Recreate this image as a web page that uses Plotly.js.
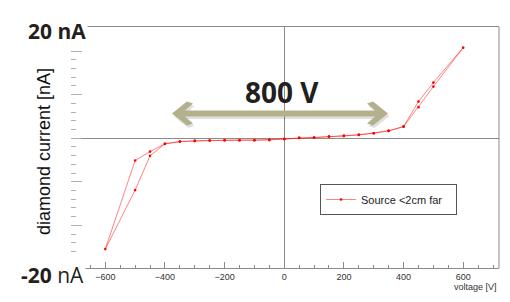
<!DOCTYPE html>
<html>
<head>
<meta charset="utf-8">
<script src="https://cdn.plot.ly/plotly-3.0.1.min.js"></script>
<style>html,body{margin:0;padding:0;background:#fff;}#chart{width:510px;height:302px;}</style>
</head>
<body>
<div id="chart"></div>
<script>
// Sweep order: 0 -> -600 -> 0 -> +600 -> 0 (hysteresis loop)
const voltage = [0,-50,-100,-150,-200,-250,-300,-350,-400,-450,-500,-600,-500,-450,-400,-350,-300,-250,-200,-150,-100,-50,0,
                 50,100,150,200,250,300,350,400,450,500,600,500,450,400,350,300,250,200,150,100,50,0];
const current = [-0.10,-0.20,-0.23,-0.23,-0.24,-0.26,-0.31,-0.39,-0.65,-1.54,-2.57,-12.73,-5.96,-2.03,-0.65,-0.39,-0.31,-0.26,-0.24,-0.23,-0.23,-0.20,-0.10,
                 0.03,0.07,0.18,0.26,0.38,0.57,0.84,1.33,4.20,6.38,10.39,5.92,3.56,1.33,0.84,0.57,0.38,0.26,0.18,0.07,0.03,-0.10];
const seriesName = 'Source &lt;2cm far';
const xTitle = 'voltage [V]';
const yTitle = 'diamond current [nA]';
const topLabel = '20 nA';
const bottomLabel = '-20 <span style="font-weight:normal">nA</span>';
const spanLabel = '800 V';

const W = 510, H = 302;
const M = {l: 71, r: 11, t: 27, b: 34};
const PW = W - M.l - M.r, PH = H - M.t - M.b;
const px = x => (x - M.l) / PW;
const py = y => (H - M.b - y) / PH;

function pathFrom(pts, dx, dy) {
  return pts.map((p, i) => (i ? 'L' : 'M') + px(p[0] + dx).toFixed(4) + ',' + py(p[1] + dy).toFixed(4)).join(' ') + ' Z';
}
const arrowPts = [[172,113.5],[187,101.5],[193,103.5],[185,110.5],[375,110.5],[367,103.5],[373,101.5],[388,113.5],
                  [373,125.5],[367,123.5],[375,116.5],[185,116.5],[193,123.5],[187,125.5]];

const trace = {
  x: voltage, y: current, type: 'scatter', mode: 'lines+markers', name: seriesName,
  line: {color: 'rgba(255,30,30,0.55)', width: 1},
  marker: {color: '#ff0000', size: 2.6},
  showlegend: true
};

const gray = '#8a8a8a';
const layout = {
  width: W, height: H,
  margin: M,
  paper_bgcolor: '#fff', plot_bgcolor: '#fff',
  font: {family: 'Liberation Sans, Arial, sans-serif', color: '#333'},
  showlegend: true,
  legend: {
    x: px(320), y: py(184), xanchor: 'left', yanchor: 'top',
    orientation: 'h', entrywidth: 90, entrywidthmode: 'pixels',
    bordercolor: '#555', borderwidth: 1, bgcolor: '#fff',
    font: {size: 11, color: '#222', family: 'Liberation Sans, Arial, sans-serif'}
  },
  xaxis: {
    range: [-715, 720], showgrid: false,
    zeroline: true, zerolinecolor: gray, zerolinewidth: 1,
    showline: true, linecolor: gray, linewidth: 1, mirror: true,
    ticks: 'inside', ticklen: 6, tickcolor: gray, dtick: 200, tick0: 0,
    minor: {dtick: 50, ticks: 'inside', ticklen: 3, tickcolor: gray},
    tickfont: {size: 9, color: '#333'},
    fixedrange: true
  },
  yaxis: {
    range: [-14.9, 12.76], showgrid: false,
    zeroline: true, zerolinecolor: gray, zerolinewidth: 1,
    showline: false, showticklabels: false,
    ticks: 'inside', ticklen: 11, tickcolor: '#b0b0b0', dtick: 5, tick0: 0,
    minor: {dtick: 1, ticks: 'inside', ticklen: 5, tickcolor: '#b0b0b0'},
    fixedrange: true
  },
  shapes: [
    {type: 'line', xref: 'paper', yref: 'paper', x0: 1, x1: 1, y0: 0, y1: 1, line: {color: gray, width: 1}},
    {type: 'path', xref: 'paper', yref: 'paper', path: pathFrom(arrowPts, 1.5, 2.5), fillcolor: 'rgba(0,0,0,0.12)', line: {width: 0}},
    {type: 'path', xref: 'paper', yref: 'paper', path: pathFrom(arrowPts, 0, 0), fillcolor: '#b4b08e', line: {width: 0}}
  ],
  annotations: [
    {xref: 'paper', yref: 'paper', x: 1, y: py(287), xanchor: 'right', yanchor: 'middle', text: xTitle,
     showarrow: false, font: {size: 9, color: '#333'}},
    {xref: 'paper', yref: 'paper', x: px(44), y: py(152), xanchor: 'center', yanchor: 'middle', textangle: -90,
     text: yTitle, showarrow: false, font: {size: 18, color: '#111', family: 'Liberation Sans, Arial, sans-serif'}},
    {xref: 'paper', yref: 'paper', x: px(56.5), y: py(31), xanchor: 'center', yanchor: 'middle', text: '<b>' + topLabel + '</b>',
     showarrow: false, bgcolor: '#fff', font: {size: 21, color: '#231f20', family: 'Open Sans, sans-serif'}},
    {xref: 'paper', yref: 'paper', x: px(52), y: py(275), xanchor: 'center', yanchor: 'middle', text: '<b>' + bottomLabel + '</b>',
     showarrow: false, bgcolor: '#fff', font: {size: 21, color: '#231f20', family: 'Open Sans, sans-serif'}},
    {xref: 'paper', yref: 'paper', x: px(281.5), y: py(92), xanchor: 'center', yanchor: 'middle', text: '<b>' + spanLabel + '</b>',
     showarrow: false, font: {size: 28, color: '#231f20', family: 'Open Sans, sans-serif'}}
  ]
};

Plotly.newPlot('chart', [trace], layout, {displayModeBar: false, staticPlot: true});
</script>
</body>
</html>
